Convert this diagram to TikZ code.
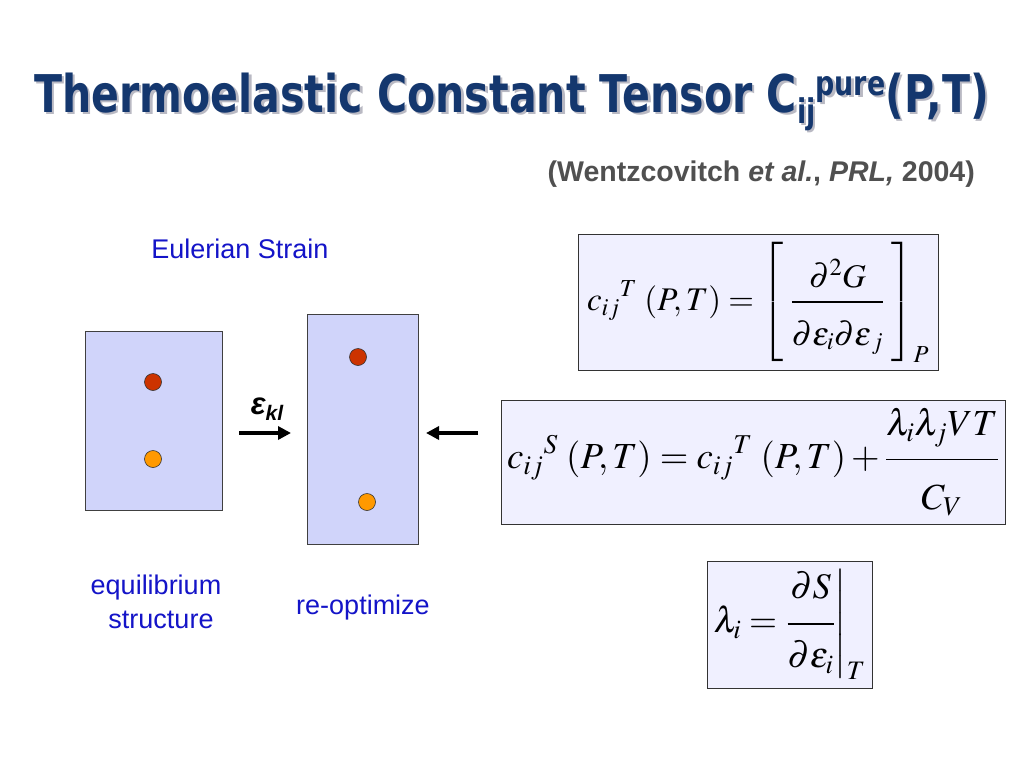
\documentclass[tikz,border=0pt]{standalone}
\usepackage{amsmath}
\usepackage{mathptmx}
\usepackage[no-math]{fontspec}
\usepackage{graphicx}
\setmainfont{Liberation Sans}
\newfontfamily\titlefont{DejaVu Sans}
\usetikzlibrary{arrows.meta}
\definecolor{navy}{RGB}{20,55,110}
\definecolor{shadowgray}{RGB}{185,185,195}
\definecolor{citegray}{RGB}{80,80,80}
\definecolor{labelblue}{RGB}{20,20,200}
\definecolor{boxfill}{RGB}{208,212,250}
\definecolor{eqfill}{RGB}{240,240,255}
\definecolor{dotred}{RGB}{204,51,0}
\definecolor{dotorange}{RGB}{255,153,0}
\newcommand\MyTitle{\resizebox{955pt}{\height}{\titlefont\bfseries\fontsize{52}{60}\selectfont Thermoelastic Constant Tensor C\raisebox{-11pt}{\fontsize{34}{34}\selectfont ij}\raisebox{17pt}{\fontsize{34}{34}\selectfont pure}(P,T)}}
\newcommand\ShadowTitle{\makebox[0pt][l]{\kern2.5pt\raisebox{-2.5pt}{\color{shadowgray}\MyTitle}}\color{navy}\MyTitle}
\newcommand\dnstrut[1]{\rule[-#1]{0pt}{#1}}
\newcommand\upstrut[1]{\rule{0pt}{#1}}
\tikzset{
  cellbox/.style={draw=black!75, fill=boxfill, line width=0.8pt},
  atomdot/.style={circle, draw=black!80, line width=0.6pt, minimum size=17pt, inner sep=0pt},
  eqbox/.style={draw=black!80, fill=eqfill, line width=0.8pt, inner sep=0pt, font=\fontsize{36}{44}\selectfont},
  bluelabel/.style={text=labelblue, font=\fontsize{27}{32}\selectfont, align=center, inner sep=0pt},
  fatarrow/.style={line width=3.5pt, -{Triangle[length=13pt,width=13pt]}},
}
\begin{document}
\begin{tikzpicture}[x=1pt,y=-1pt]
\useasboundingbox (0,0) rectangle (1024,768);
\fill[white] (0,0) rectangle (1024,768);
% title with shadow
\node[anchor=base west, inner sep=0pt] (title) at (34,112) {\ShadowTitle};
\node[anchor=base east, inner sep=0pt, text=citegray, font=\bfseries\fontsize{28.5}{32}\selectfont] (cite) at (975,181) {(Wentzcovitch \textit{et al.}, \textit{PRL,} 2004)};
% labels
\node[bluelabel, anchor=base] (euler) at (240,258) {Eulerian Strain};
\node[bluelabel, anchor=base] (equil) at (156,594) {equilibrium};
\node[bluelabel, anchor=base] (struct) at (161,628) {structure};
\node[bluelabel, anchor=base] (reopt) at (363,614) {re-optimize};
% cells
\node[cellbox, minimum width=137pt, minimum height=179pt, inner sep=0pt] (lbox) at (153.5,420.5) {};
\node[cellbox, minimum width=111pt, minimum height=230pt, inner sep=0pt] (rbox) at (362.5,429) {};
\node[atomdot, fill=dotred] (lred) at (153,382) {};
\node[atomdot, fill=dotorange] (lorange) at (153,459) {};
\node[atomdot, fill=dotred] (rred) at (358,357) {};
\node[atomdot, fill=dotorange] (rorange) at (367,502) {};
% arrows
\coordinate (a1s) at (239,433);
\coordinate (a1e) at (291,433);
\coordinate (a2s) at (478,433);
\coordinate (a2e) at (426,433);
\draw[fatarrow] (a1s) -- (a1e);
\draw[fatarrow] (a2s) -- (a2e);
\node[inner sep=0pt, font=\bfseries\itshape\fontsize{31}{34}\selectfont] (eps) at (267,409) {ε\raisebox{-6pt}{\fontsize{21}{21}\selectfont kl}};
% equation boxes
\node[eqbox, minimum width=360pt, minimum height=136pt] (eq1) at (758,302.5)
  {\resizebox{342pt}{!}{$\displaystyle c_{ij}{}^{T}\;(P,T) = \left[\;\frac{\partial^2 G\dnstrut{9pt}}{\upstrut{42pt}\partial\varepsilon_i\partial\varepsilon_{\,j}}\;\right]_P$}};
\node[eqbox, minimum width=504pt, minimum height=124pt] (eq2) at (753,462)
  {\resizebox{492pt}{!}{$\displaystyle c_{ij}{}^{S}\;(P,T) = c_{ij}{}^{T}\;(P,T) + \frac{\lambda_i\lambda_j VT\dnstrut{18pt}}{\upstrut{44pt}C_V}$}};
\node[eqbox, minimum width=165pt, minimum height=127pt] (eq3) at (789.5,624.5)
  {\resizebox{152pt}{!}{$\displaystyle \lambda_i = \left.\frac{\partial S\dnstrut{20pt}}{\upstrut{39pt}\partial\varepsilon_i}\right|_T$}};
\end{tikzpicture}
\end{document}
